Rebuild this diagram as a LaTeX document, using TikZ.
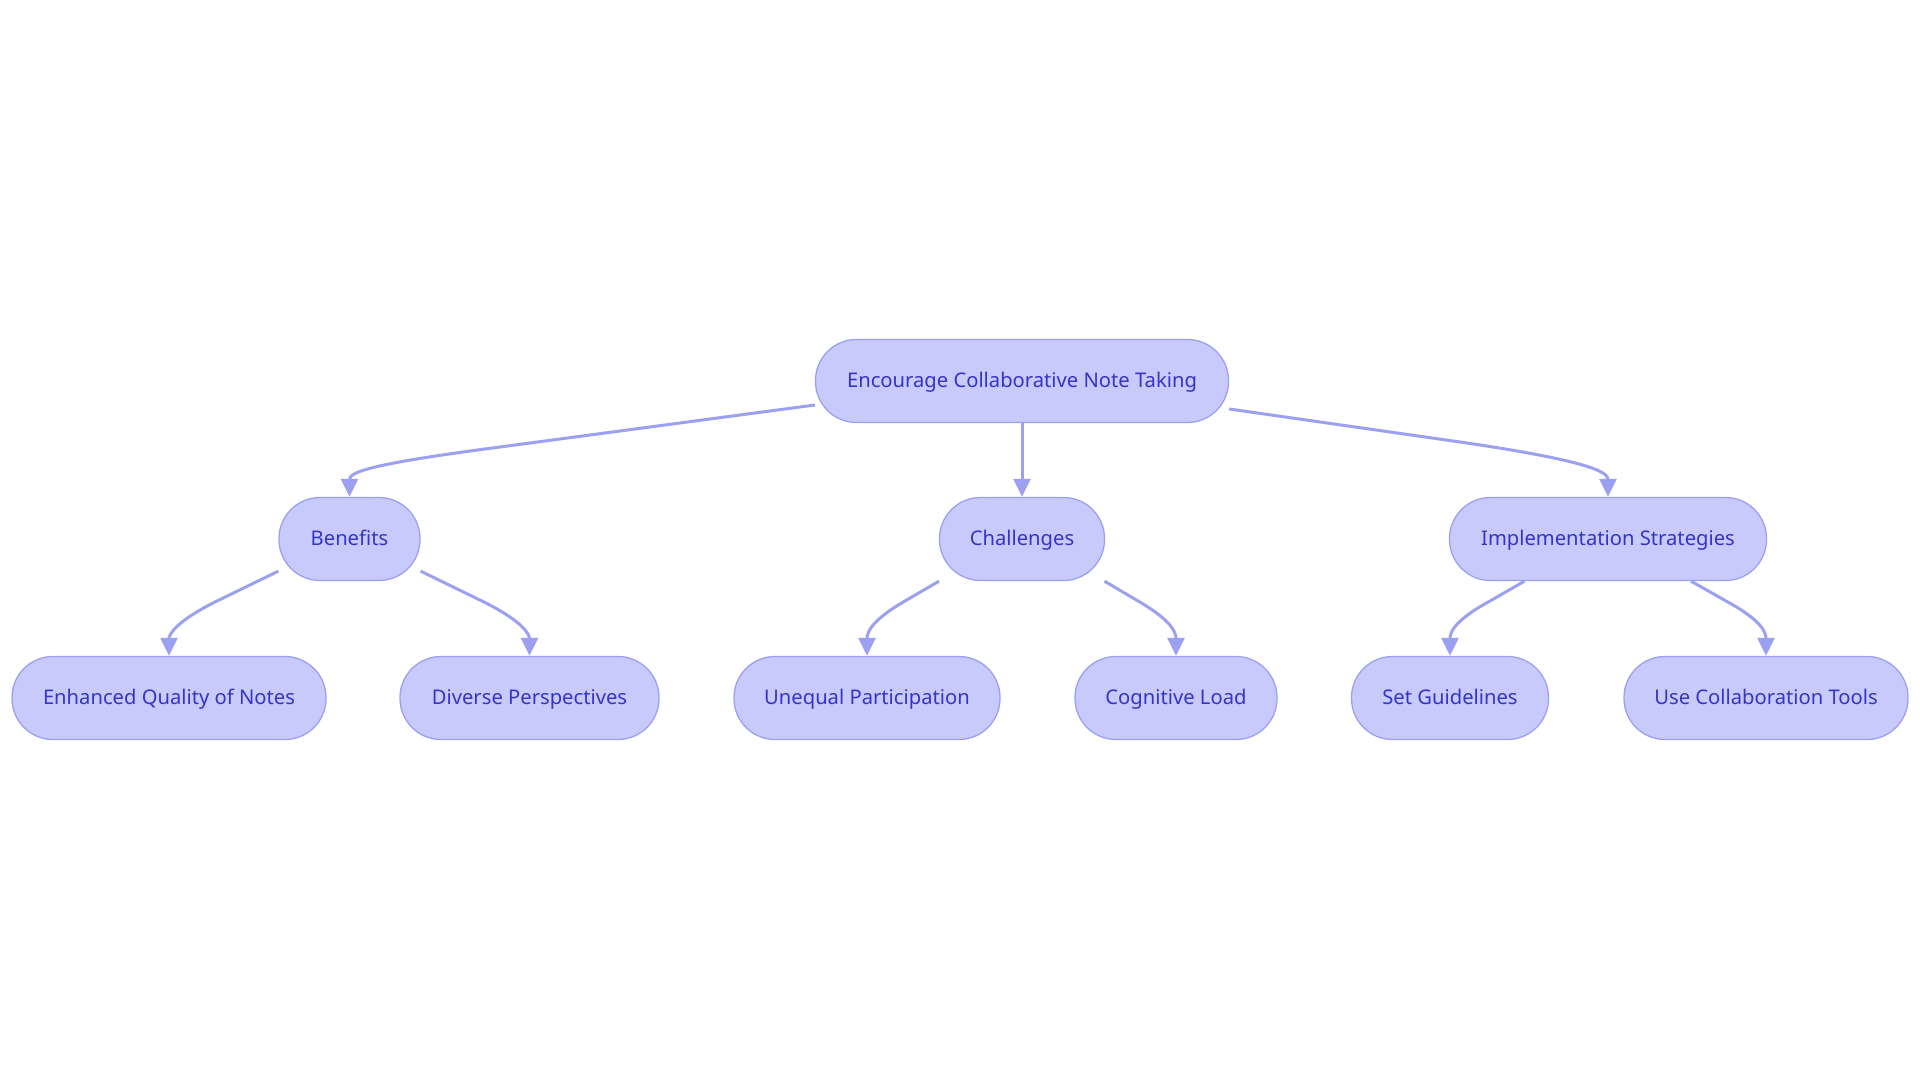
\documentclass[tikz,border=0pt]{standalone}
\usepackage{fontspec}
\setmainfont{Noto Sans}
\usetikzlibrary{arrows.meta}
\definecolor{nodefill}{HTML}{C8CAFB}
\definecolor{nodeline}{HTML}{9CA0F2}
\definecolor{edgecol}{HTML}{9CA0F0}
\definecolor{txt}{HTML}{3434C8}
\begin{document}
\begin{tikzpicture}[x=1pt,y=1pt,
  box/.style={draw=nodeline, fill=nodefill, line width=1.3pt, rounded corners=41pt,
    minimum height=83pt, inner sep=0pt, text height=16pt, text depth=4pt, text=txt,
    font=\fontsize{20.2}{24}\selectfont},
  edge/.style={draw=edgecol, line width=3pt, -{Triangle[length=18pt,width=17pt]}}]
\useasboundingbox (0,0) rectangle (1920,-1083);
\node[box, minimum width=413pt] (root) at (1022,-381) {Encourage Collaborative Note Taking};
\node[box, minimum width=141pt] (ben) at (349.5,-539) {Benefits};
\node[box, minimum width=165pt] (cha) at (1022,-539) {Challenges};
\node[box, minimum width=317pt] (imp) at (1608,-539) {Implementation Strategies};
\node[box, minimum width=314pt] (enh) at (169,-698) {Enhanced Quality of Notes};
\node[box, minimum width=259pt] (div) at (529.5,-698) {Diverse Perspectives};
\node[box, minimum width=266pt] (une) at (867,-698) {Unequal Participation};
\node[box, minimum width=202pt] (cog) at (1176,-698) {Cognitive Load};
\node[box, minimum width=197pt] (set) at (1450,-698) {Set Guidelines};
\node[box, minimum width=284pt] (use) at (1766,-698) {Use Collaboration Tools};

\draw[edge] ([yshift=-24pt]root.west) -- (500,-447) .. controls (370,-464) and (349.5,-472) .. (ben.north);
\draw[edge] (root.south) -- (cha.north);
\draw[edge] ([yshift=-28pt]root.east) -- (1460,-442) .. controls (1590,-461) and (1608,-472) .. (imp.north);

\draw[edge] ([yshift=10pt]ben.south west) -- (215,-602) .. controls (175,-622) and (169,-635) .. (enh.north);
\draw[edge] ([yshift=10pt]ben.south east) -- (484,-602) .. controls (524,-622) and (529.5,-635) .. (div.north);
\draw[edge] ([xshift=-83pt]cha.south) -- (905,-601) .. controls (872,-620) and (867,-632) .. (une.north);
\draw[edge] ([xshift=82.5pt]cha.south) -- (1138,-601) .. controls (1171,-620) and (1176,-632) .. (cog.north);
\draw[edge] ([xshift=-83.5pt]imp.south) -- (1490,-601) .. controls (1455,-620) and (1450,-632) .. (set.north);
\draw[edge] ([xshift=83pt]imp.south) -- (1726,-601) .. controls (1761,-620) and (1766,-632) .. (use.north);
\end{tikzpicture}
\end{document}
